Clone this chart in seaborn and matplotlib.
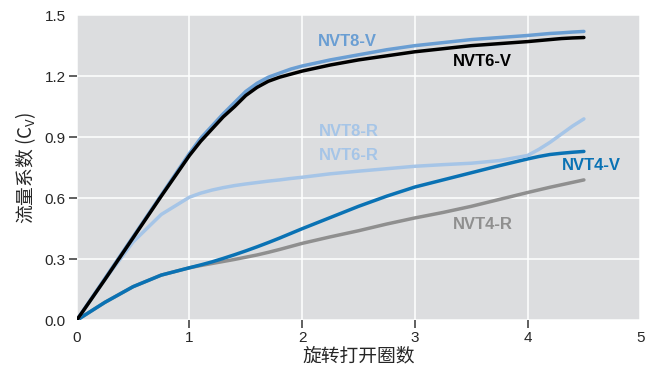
import matplotlib
matplotlib.use("Agg")
import matplotlib.pyplot as plt
import seaborn as sns
import pandas as pd

sns.set_style("white")
plt.rcParams["font.family"] = ["Liberation Sans", "Noto Sans CJK SC", "DejaVu Sans"]

# turns open vs flow coefficient (Cv)
turns = [0, 0.25, 0.5, 0.75, 1, 1.1, 1.2, 1.3, 1.4, 1.5, 1.6, 1.7, 1.8, 1.9, 2,
         2.25, 2.5, 2.75, 3, 3.25, 3.5, 3.75, 4, 4.1, 4.2, 4.3, 4.4, 4.5]
nvt8_v = [0, 0.205, 0.41, 0.615, 0.82, 0.895, 0.955, 1.015, 1.07, 1.125, 1.165, 1.195, 1.215, 1.235, 1.25,
          1.28, 1.305, 1.33, 1.35, 1.365, 1.38, 1.39, 1.40, 1.405, 1.41, 1.413, 1.417, 1.42]
nvt6_v = [0, 0.20, 0.405, 0.61, 0.81, 0.88, 0.94, 1.00, 1.05, 1.105, 1.145, 1.175, 1.195, 1.21, 1.225,
          1.255, 1.28, 1.30, 1.32, 1.335, 1.35, 1.36, 1.37, 1.375, 1.38, 1.385, 1.388, 1.39]
nvt68_r = [0, 0.20, 0.385, 0.52, 0.605, 0.625, 0.64, 0.652, 0.662, 0.67, 0.677, 0.684, 0.69, 0.697, 0.703,
           0.72, 0.733, 0.745, 0.757, 0.765, 0.772, 0.785, 0.81, 0.84, 0.875, 0.915, 0.955, 0.99]
nvt4_v = [0, 0.088, 0.165, 0.222, 0.258, 0.272, 0.287, 0.304, 0.322, 0.341, 0.361, 0.382, 0.404, 0.427, 0.45,
          0.505, 0.56, 0.61, 0.655, 0.69, 0.725, 0.76, 0.793, 0.805, 0.815, 0.821, 0.826, 0.83]
nvt4_r = [0, 0.088, 0.165, 0.222, 0.258, 0.269, 0.279, 0.289, 0.299, 0.31, 0.321, 0.334, 0.348, 0.363, 0.378,
          0.41, 0.44, 0.473, 0.503, 0.53, 0.56, 0.594, 0.628, 0.641, 0.654, 0.666, 0.678, 0.69]

series = [
    ("NVT4-R", nvt4_r, "#8f8f8f"),
    ("NVT4-V", nvt4_v, "#0a72b4"),
    ("NVT8-R", nvt68_r, "#a6c5e7"),
    ("NVT8-V", nvt8_v, "#6a9ed3"),
    ("NVT6-V", nvt6_v, "#000000"),
]

fig, ax = plt.subplots(figsize=(6.5, 3.79), dpi=100)
fig.subplots_adjust(left=0.118, right=0.985, top=0.96, bottom=0.155)
ax.set_facecolor("#dcdddf")

for name, vals, col in series:
    d = pd.DataFrame({"x": turns, "y": vals})
    sns.lineplot(data=d, x="x", y="y", ax=ax, color=col, lw=2.5,
                 solid_capstyle="round", solid_joinstyle="round", zorder=3)

labels = [
    ("NVT8-V", 2.4, 1.37, "#6a9ed3"),
    ("NVT6-V", 3.6, 1.27, "#000000"),
    ("NVT8-R", 2.41, 0.93, "#a6c5e7"),
    ("NVT6-R", 2.41, 0.81, "#a6c5e7"),
    ("NVT4-V", 4.57, 0.76, "#0a72b4"),
    ("NVT4-R", 3.6, 0.47, "#8f8f8f"),
]
for txt, lx, ly, col in labels:
    ax.text(lx, ly, txt, color=col, fontsize=12, fontweight="bold",
            ha="center", va="center", zorder=4)

ax.set_xlim(0, 5)
ax.set_ylim(0, 1.5)
ax.set_xticks([0, 1, 2, 3, 4, 5])
ax.set_yticks([0.0, 0.3, 0.6, 0.9, 1.2, 1.5])
ax.set_yticklabels(["0.0", "0.3", "0.6", "0.9", "1.2", "1.5"])
ax.grid(True, color="white", lw=1.1, zorder=1)
ax.set_axisbelow(True)
for s in ax.spines.values():
    s.set_visible(False)
ax.tick_params(axis="both", length=6, width=1.2, color="#444444",
               labelsize=11, direction="out", bottom=True, left=True, pad=2)
for t in [ax.xaxis.get_major_ticks()[0], ax.xaxis.get_major_ticks()[-1],
          ax.yaxis.get_major_ticks()[0], ax.yaxis.get_major_ticks()[-1]]:
    t.tick1line.set_visible(False)

ax.set_xlabel("旋转打开圈数", fontsize=13.5, family="Noto Sans CJK SC", labelpad=0)
ax.set_ylabel(r"流量系数 (C$_\mathregular{V}$)", fontsize=13.5,
              family="Noto Sans CJK SC", labelpad=5)

plt.savefig("out.png", dpi=100)
plt.close()
